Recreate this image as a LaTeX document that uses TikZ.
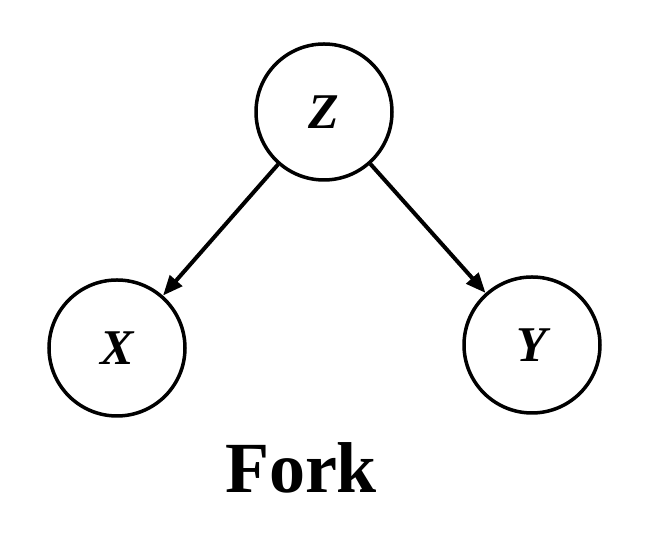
\documentclass[tikz,border=0pt]{standalone}
\usepackage{fontspec}
\setmainfont{Liberation Serif}
\usetikzlibrary{arrows.meta}
\begin{document}
\begin{tikzpicture}[x=1pt,y=1pt,
  var/.style={circle,draw,line width=3.5pt,minimum size=136pt,inner sep=0pt,font=\fontsize{50}{60}\selectfont\bfseries\itshape},
  arr/.style={line width=4pt,-{Triangle[length=20pt,width=16pt]}}]
\useasboundingbox (0,0) rectangle (657,559);
\node[var] (z) at (324,447) {Z};
\node[var] (x) at (117,211) {X};
\node[var] (y) at (532,214) {Y};
\draw[arr] (z) -- (x);
\draw[arr] (z) -- (y);
\node[font=\fontsize{72}{80}\selectfont\bfseries] (f) at (301,91) {Fork};
\end{tikzpicture}
\end{document}
